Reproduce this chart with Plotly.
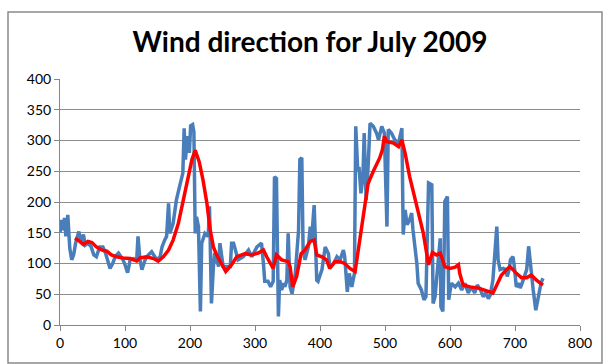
import plotly.graph_objects as go

# Hourly wind direction readings (degrees) for July 2009
hour = [0, 2, 4, 7, 9, 12, 15, 18, 21, 24, 29, 32, 36, 39, 43, 48, 52, 56, 61, 66,
        70, 74, 77, 81, 85, 90, 94, 97, 100, 104, 108, 113, 118, 120, 123, 126, 131, 136, 141, 145,
        149, 154, 157, 161, 164, 167, 169, 174, 179, 185, 189, 191, 193, 196, 199, 201, 204, 206, 208, 210,
        213, 216, 218, 223, 228, 230, 233, 236, 238, 244, 246, 251, 256, 262, 264, 267, 274, 282, 290, 295,
        303, 310, 313, 315, 320, 324, 328, 330, 333, 336, 338, 341, 344, 346, 349, 351, 354, 357, 362, 364,
        367, 369, 372, 374, 377, 382, 385, 387, 391, 395, 397, 403, 408, 413, 415, 421, 426, 431, 436, 438,
        442, 445, 449, 453, 455, 458, 460, 463, 466, 468, 471, 474, 477, 482, 487, 490, 495, 499, 501, 503,
        505, 510, 515, 521, 526, 528, 531, 534, 538, 541, 543, 549, 551, 556, 560, 563, 567, 572, 574, 577,
        582, 585, 586, 589, 591, 592, 596, 598, 602, 608, 613, 618, 623, 628, 633, 638, 642, 647, 651, 655,
        659, 662, 666, 672, 674, 677, 682, 686, 688, 691, 693, 697, 699, 702, 706, 708, 711, 714, 718, 721,
        724, 728, 732, 736, 740, 743]
direction = [150, 171, 154, 174, 144, 179, 125, 106, 114, 133, 152, 136, 147, 130, 133, 127, 114, 111, 127, 127,
             117, 100, 92, 100, 111, 117, 111, 106, 98, 85, 106, 108, 106, 144, 106, 90, 106, 114, 119, 111,
             106, 111, 127, 138, 144, 198, 149, 165, 203, 230, 247, 320, 269, 307, 280, 324, 326, 314, 149, 176,
             160, 22, 133, 149, 144, 193, 35, 95, 117, 95, 133, 95, 95, 95, 133, 133, 106, 111, 122, 111,
             127, 133, 100, 71, 71, 62, 71, 241, 238, 14, 73, 57, 68, 62, 73, 149, 62, 51, 84, 122,
             154, 269, 272, 122, 106, 127, 160, 138, 195, 73, 71, 90, 127, 116, 95, 100, 111, 106, 122, 111,
             54, 84, 62, 84, 323, 252, 257, 214, 241, 312, 203, 257, 328, 323, 312, 301, 323, 312, 241, 160,
             318, 312, 301, 296, 320, 147, 187, 163, 171, 182, 155, 100, 68, 57, 41, 46, 231, 228, 35, 46,
             106, 141, 30, 22, 122, 201, 209, 41, 68, 62, 68, 57, 68, 52, 62, 52, 65, 57, 46, 52,
             43, 49, 73, 160, 106, 90, 92, 90, 79, 90, 106, 111, 95, 62, 68, 60, 68, 79, 90, 128,
             95, 57, 24, 46, 68, 76]

# Smoothed (moving average) direction
avg_hour = [23, 28, 36, 43, 49, 56, 64, 72, 79, 87, 97, 108, 118, 123, 133, 144, 151, 159, 167, 174,
            182, 190, 197, 203, 208, 214, 220, 226, 231, 236, 241, 249, 255, 264, 272, 285, 295, 305, 313, 318,
            328, 333, 341, 351, 354, 358, 364, 371, 377, 385, 391, 395, 403, 410, 415, 423, 431, 438, 446, 454,
            462, 469, 474, 482, 492, 496, 499, 503, 513, 521, 526, 531, 538, 549, 559, 567, 573, 579, 585, 587,
            592, 600, 608, 613, 615, 620, 631, 644, 666, 672, 679, 687, 692, 697, 702, 710, 718, 725, 733, 743]
avg_direction = [141, 138, 131, 136, 134, 127, 122, 120, 114, 111, 109, 108, 104, 109, 111, 108, 104, 111, 122, 138,
                 165, 203, 241, 269, 284, 266, 236, 198, 155, 127, 114, 100, 87, 98, 111, 116, 114, 117, 122, 111,
                 92, 114, 106, 103, 95, 62, 79, 116, 122, 136, 138, 114, 111, 106, 92, 103, 103, 100, 92, 87,
                 144, 193, 230, 250, 272, 285, 307, 298, 296, 290, 301, 279, 241, 193, 149, 98, 118, 114, 117, 111,
                 95, 92, 94, 98, 84, 65, 62, 60, 52, 65, 81, 90, 95, 90, 84, 77, 77, 81, 73, 65]

x_ticks = [0, 100, 200, 300, 400, 500, 600, 700, 800]
y_ticks = [0, 50, 100, 150, 200, 250, 300, 350, 400]

fig = go.Figure()
fig.add_trace(go.Scatter(x=hour, y=direction, mode="lines",
                         line=dict(color="#4A7EBB", width=3.5), showlegend=False))
fig.add_trace(go.Scatter(x=avg_hour, y=avg_direction, mode="lines",
                         line=dict(color="#FF0000", width=3.5), showlegend=False))

axis_font = dict(family="Lato, Liberation Sans, sans-serif", size=14, color="#000000")

fig.update_layout(
    width=611, height=364,
    margin=dict(l=60, r=31, t=79, b=39),
    paper_bgcolor="white", plot_bgcolor="white",
    title=dict(text="<b>Wind direction for July 2009</b>",
               font=dict(family="Lato, Liberation Sans, sans-serif", size=28, color="#000000"),
               x=(310 - 60) / 520, xref="paper", xanchor="center", y=1 - 42 / 364, yanchor="middle"),
    xaxis=dict(range=[0, 800], tickvals=x_ticks, showgrid=False, zeroline=False,
               showline=True, linecolor="#868686", linewidth=1,
               ticks="outside", ticklen=5, tickcolor="#868686", tickfont=axis_font),
    yaxis=dict(range=[0, 400], tickvals=y_ticks, showgrid=True, gridcolor="#8C8C8C", gridwidth=1,
               zeroline=False, showline=True, linecolor="#868686", linewidth=1,
               ticks="outside", ticklen=5, tickcolor="#868686", tickfont=axis_font),
    shapes=[dict(type="rect", xref="paper", yref="paper",
                 x0=(8 - 60) / 520, x1=(602 - 60) / 520,
                 y0=(325 - 363) / 246, y1=(325 - 12) / 246,
                 line=dict(color="#8A8A8A", width=1.5), fillcolor="rgba(0,0,0,0)", layer="below")],
)

fig.write_html("out.html")
